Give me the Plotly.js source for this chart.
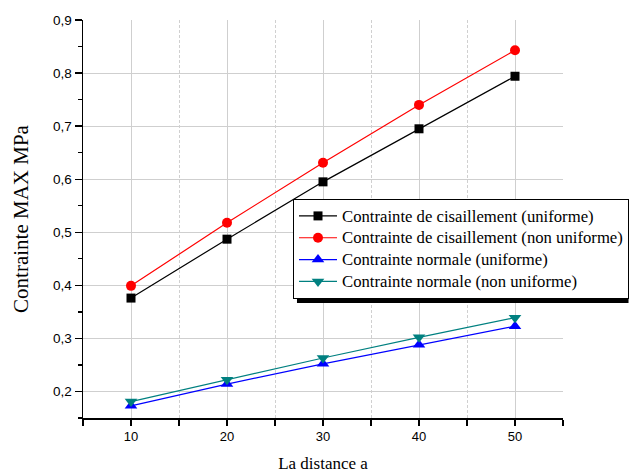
<!DOCTYPE html>
<html><head><meta charset="utf-8">
<script src="https://cdn.plot.ly/plotly-3.0.1.min.js"></script>
<style>html,body{margin:0;padding:0;background:#fff}#chart{width:629px;height:474px}</style>
</head><body><div id="chart"></div>
<script>
const distances = [10, 20, 30, 40, 50];
const cisUniforme = [0.376, 0.487, 0.595, 0.695, 0.794];
const cisNonUniforme = [0.399, 0.518, 0.631, 0.740, 0.843];
const normUniforme = [0.173, 0.214, 0.252, 0.288, 0.323];
const normNonUniforme = [0.181, 0.222, 0.263, 0.302, 0.339];
const seriesNames = [
  'Contrainte de cisaillement (uniforme)',
  'Contrainte de cisaillement (non uniforme)',
  'Contrainte normale (uniforme)',
  'Contrainte normale (non uniforme)'
];
const xTitle = 'La distance a';
const yTitle = 'Contrainte MAX MPa';

const styles = [
  {color: '#000000', symbol: 'square', size: 9},
  {color: '#ff0000', symbol: 'circle', size: 10},
  {color: '#0000ff', symbol: 'triangle-up', size: 11},
  {color: '#008080', symbol: 'triangle-down', size: 11}
];
const values = [cisUniforme, cisNonUniforme, normUniforme, normNonUniforme];

const serif = "'Liberation Serif', 'Times New Roman', serif";
const sans = "'Liberation Sans', Arial, sans-serif";

const traces = values.map((v, i) => ({
  x: distances, y: v,
  name: '<span style="font-size:16.7px">' + seriesNames[i] + '</span>',
  type: 'scatter', mode: 'lines+markers',
  line: {color: styles[i].color, width: 1.2},
  marker: {color: styles[i].color, symbol: styles[i].symbol, size: styles[i].size}
}));

const layout = {
  width: 629, height: 474,
  margin: {l: 83, r: 66, t: 20, b: 56, autoexpand: false},
  paper_bgcolor: '#ffffff', plot_bgcolor: '#ffffff',
  separators: ', ',
  showlegend: true,
  xaxis: {
    range: [5, 55], dtick: 10, tick0: 0,
    showline: true, linecolor: '#000', linewidth: 1.5,
    ticks: 'outside', ticklen: 6, tickwidth: 1.3, tickcolor: '#000',
    showgrid: true, gridcolor: '#cfcfcf', gridwidth: 1,
    zeroline: false, automargin: false,
    tickfont: {family: sans, size: 13, color: '#000'},
    minor: {dtick: 5, tick0: 0, ticks: 'outside', ticklen: 6, tickwidth: 1.3, tickcolor: '#000',
            showgrid: true, gridcolor: '#c4c4c4', gridwidth: 0.8, griddash: '3px,2px'},
    title: {text: xTitle, font: {family: serif, size: 17, color: '#000'}, standoff: 14}
  },
  yaxis: {
    range: [0.15, 0.9], dtick: 0.1, tick0: 0, tickformat: '.1f',
    showline: true, linecolor: '#000', linewidth: 1.5,
    ticks: 'outside', ticklen: 7, tickwidth: 1.3, tickcolor: '#000',
    showgrid: true, gridcolor: '#cfcfcf', gridwidth: 1,
    zeroline: false, automargin: false,
    tickfont: {family: sans, size: 13.5, color: '#000'},
    minor: {dtick: 0.05, tick0: 0, ticks: 'outside', ticklen: 4, tickwidth: 1.3, tickcolor: '#000', showgrid: false},
    title: {text: yTitle, font: {family: serif, size: 21, color: '#000'}, standoff: 18}
  },
  legend: {
    x: 0.4375, y: 0.5503, xanchor: 'left', yanchor: 'top',
    bgcolor: '#ffffff', bordercolor: '#000', borderwidth: 1,
    font: {family: serif, size: 14.5, color: '#000'},
    itemwidth: 38, tracegroupgap: 0
  },
  shapes: [{
    type: 'rect', xref: 'paper', yref: 'paper', layer: 'above',
    x0: 0.4458, x1: 1.1365, y0: 0.2889, y1: 0.5377,
    fillcolor: '#000', line: {width: 0}
  }]
};

Plotly.newPlot('chart', traces, layout, {displayModeBar: false, staticPlot: true});
</script>
</body></html>
